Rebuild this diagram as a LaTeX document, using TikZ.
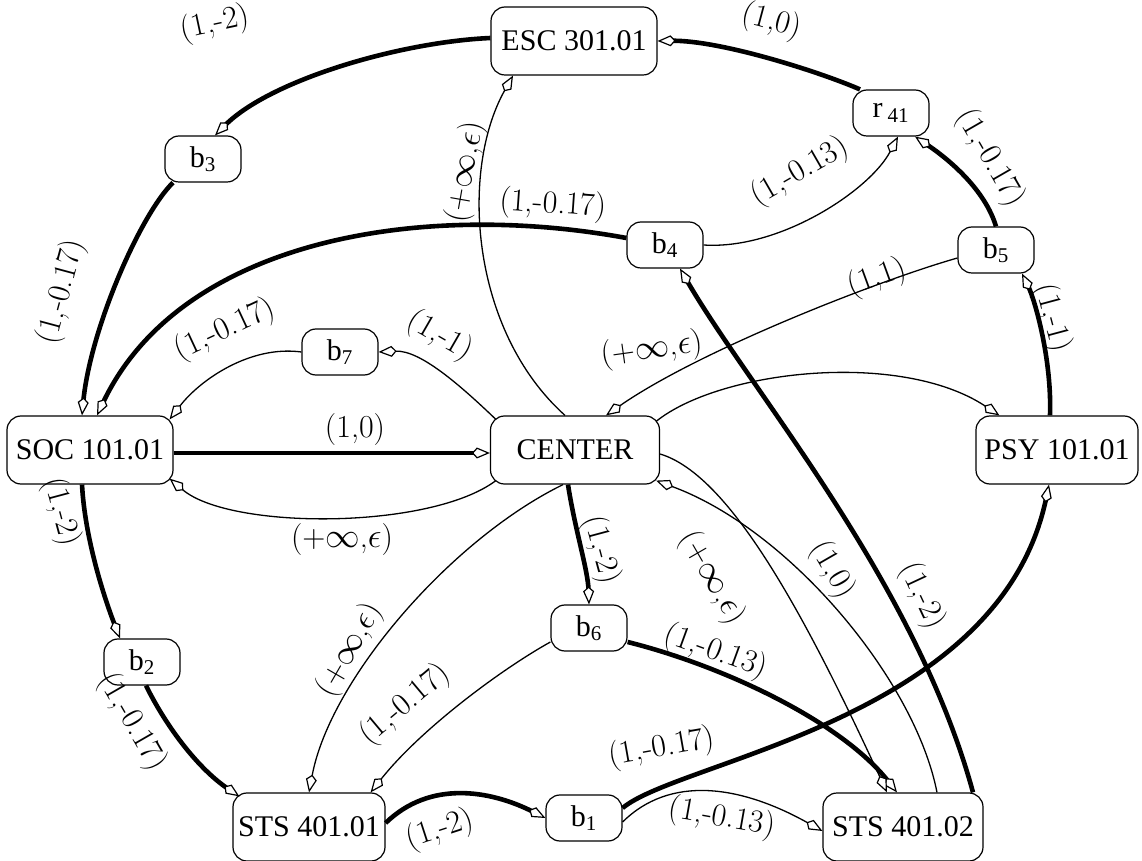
\documentclass[tikz,border=0pt]{standalone}
\usepackage{fontspec}
\newfontfamily\tms{Liberation Serif}
\usetikzlibrary{arrows.meta}
\begin{document}
\begin{tikzpicture}[x=0.5pt,y=-0.5pt,
  big/.style={draw, line width=0.6pt, rounded corners=7pt, minimum height=34pt, inner sep=2pt, font=\tms\fontsize{15}{18}\selectfont},
  small/.style={big, minimum width=38pt, minimum height=23pt},
  lbl/.style={inner sep=0pt, font=\fontsize{16}{19}\selectfont},
  thinE/.style={line width=0.65pt},
  thickE/.style={line width=2.3pt},
  kitearrow/.style={-{Kite[length=9pt,width=5.5pt,inset=2.5pt,fill=white,line width=0.6pt]}}]
\useasboundingbox (0,0) rectangle (1142,861);
% nodes
\node[big, minimum width=83pt] (ESC) at (574,41) {ESC 301.01};
\node[big, minimum width=83pt] (SOC) at (90,450) {SOC 101.01};
\node[big, minimum width=84.5pt] (CEN) at (575,450) {CENTER};
\node[big, minimum width=81pt] (PSY) at (1057,450) {PSY 101.01};
\node[big, minimum width=76pt] (STS1) at (309,827) {STS 401.01};
\node[big, minimum width=80pt] (STS2) at (903,827) {STS 401.02};
\node[small] (b3) at (203,159) {b\textsubscript{3}};
\node[small] (r41) at (891,113) {r\,\textsubscript{41}};
\node[small] (b5) at (996,250) {b\textsubscript{5}};
\node[small] (b4) at (665,245) {b\textsubscript{4}};
\node[small] (b7) at (340,352) {b\textsubscript{7}};
\node[small] (b2) at (142,662) {b\textsubscript{2}};
\node[small] (b6) at (589,628) {b\textsubscript{6}};
\node[small] (b1) at (584,818) {b\textsubscript{1}};
% edges
\draw[thickE,kitearrow] ([yshift=1.5pt]ESC.west) .. controls (400,42) and (270,80) .. ([xshift=6pt]b3.north);
\draw[thickE,kitearrow] ([xshift=-15pt]b3.south) .. controls (140,215) and (90,330) .. ([xshift=-4pt]SOC.north);
\draw[thickE,kitearrow] ([xshift=-15.5pt]r41.north) .. controls (820,72) and (720,40) .. (ESC.east);
\draw[thickE,kitearrow] (b5.north) .. controls (985,190) and (950,160) .. ([xshift=12pt]r41.south);
\draw[thinE,kitearrow] (b4.east) .. controls (780,250) and (870,190) .. ([xshift=3.5pt]r41.south);
\draw[thinE,kitearrow] ([xshift=-5pt]CEN.north) .. controls (470,330) and (460,170) .. ([xshift=-30.5pt]ESC.south);
\draw[thickE,kitearrow] ([yshift=3.5pt]b4.west) .. controls (420,200) and (180,240) .. ([xshift=3.5pt]SOC.north);
\draw[thinE,kitearrow] (b7.west) .. controls (250,345) and (200,380) .. ([xshift=-2pt,yshift=-2pt]SOC.north east);
\draw[thinE,kitearrow] ([xshift=3pt,yshift=-2pt]CEN.north west) .. controls (460,385) and (420,350) .. (b7.east);
\draw[thinE,kitearrow] ([yshift=-4pt]b5.west) .. controls (880,280) and (700,350) .. ([xshift=15.5pt]CEN.north);
\draw[thinE,kitearrow] ([xshift=-2pt,yshift=-3pt]CEN.north east) .. controls (720,370) and (900,350) .. ([xshift=12pt]PSY.north west);
\draw[thickE,kitearrow] ([xshift=-3.5pt]PSY.north) .. controls (1052,360) and (1035,300) .. ([xshift=13pt]b5.south);
\draw[thickE,kitearrow] ([yshift=-1.5pt]SOC.east) -- ([yshift=-1.5pt]CEN.west);
\draw[thinE,kitearrow] ([xshift=3pt,yshift=2pt]CEN.south west) .. controls (430,530) and (230,530) .. ([xshift=-2pt,yshift=3pt]SOC.south east);
\draw[thickE,kitearrow] ([xshift=-4pt]SOC.south) .. controls (85,540) and (105,600) .. ([xshift=-11pt]b2.north);
\draw[thickE,kitearrow] ([xshift=2pt]b2.south) .. controls (168,730) and (200,770) .. ([xshift=3.5pt,yshift=-2pt]STS1.north west);
\draw[thickE,kitearrow] ([xshift=-3.5pt]CEN.south) .. controls (575,530) and (588,570) .. (b6.north);
\draw[thickE,kitearrow] ([yshift=-7pt]b6.east) .. controls (720,665) and (840,720) .. ([xshift=-3pt]STS2.north);
\draw[thinE,kitearrow] ([xshift=-6pt]CEN.south) .. controls (450,540) and (330,680) .. (STS1.north);
\draw[thinE,kitearrow] ([yshift=-7pt]b6.west) .. controls (500,670) and (420,730) .. ([xshift=-7.5pt]STS1.north east);
\draw[thickE,kitearrow] ([yshift=2pt]STS1.east) .. controls (430,780) and (490,790) .. (b1.west);
\draw[thinE,kitearrow] ([yshift=-2pt]b1.east) .. controls (670,775) and (740,785) .. ([yshift=-2pt]STS2.west);
\draw[thickE,kitearrow] ([yshift=5pt]b1.east) .. controls (680,760) and (1000,720) .. ([xshift=-4pt]PSY.south);
\draw[thinE,kitearrow] ([yshift=-2pt]CEN.east) .. controls (730,475) and (805,615) .. ([xshift=-8pt]STS2.north);
\draw[thinE,kitearrow] ([xshift=17pt]STS2.north) .. controls (915,680) and (790,530) .. ([xshift=-2pt,yshift=2pt]CEN.south east);
\draw[thickE,kitearrow] ([xshift=35pt]STS2.north) .. controls (915,580) and (750,390) .. ([xshift=7.5pt]b4.south);
% labels
\node[lbl, rotate=12] (L1) at (215,24) {(1,-2)};
\node[lbl, rotate=-15] (L2) at (772,22) {(1,0)};
\node[lbl, rotate=-60] (L3) at (990,158) {(1,-0.17)};
\node[lbl, rotate=30] (L4) at (800,172) {(1,-0.13)};
\node[lbl, rotate=80] (L5) at (466,172) {(+$\infty$,$\epsilon$)};
\node[lbl, rotate=-4] (L6) at (553,205) {(1,-0.17)};
\node[lbl, rotate=75] (L7) at (62,292) {(1,-0.17)};
\node[lbl, rotate=20] (L8) at (877,278) {(1,1)};
\node[lbl, rotate=25] (L9) at (225,330) {(1,-0.17)};
\node[lbl, rotate=-30] (L10) at (440,336) {(1,-1)};
\node[lbl, rotate=8] (L11) at (652,350) {(+$\infty$,$\epsilon$)};
\node[lbl, rotate=-75] (L12) at (1052,318) {(1,-1)};
\node[lbl] (L13) at (355,430) {(1,0)};
\node[lbl, rotate=-75] (L14) at (61,512) {(1,-2)};
\node[lbl] (L15) at (342,540) {(+$\infty$,$\epsilon$)};
\node[lbl, rotate=-75] (L16) at (601,550) {(1,-2)};
\node[lbl, rotate=-60] (L17) at (712,578) {(+$\infty$,$\epsilon$)};
\node[lbl, rotate=-60] (L18) at (832,570) {(1,0)};
\node[lbl, rotate=-65] (L19) at (922,596) {(1,-2)};
\node[lbl, rotate=-20] (L20) at (716,652) {(1,-0.13)};
\node[lbl, rotate=60] (L21) at (350,650) {(+$\infty$,$\epsilon$)};
\node[lbl, rotate=-60] (L22) at (132,722) {(1,-0.17)};
\node[lbl, rotate=40] (L23) at (405,705) {(1,-0.17)};
\node[lbl, rotate=10] (L24) at (662,748) {(1,-0.17)};
\node[lbl, rotate=18] (L25) at (440,830) {(1,-2)};
\node[lbl, rotate=-10] (L26) at (722,818) {(1,-0.13)};
\end{tikzpicture}
\end{document}
